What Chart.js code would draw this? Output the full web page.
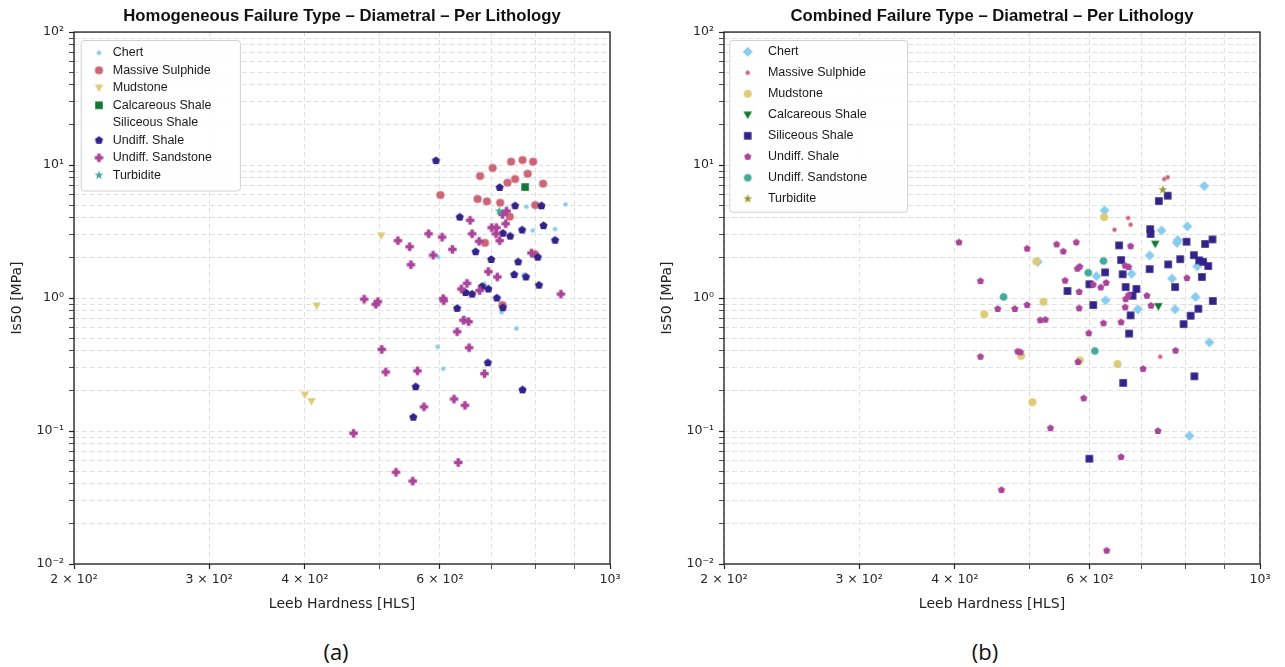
<!DOCTYPE html>
<html>
<head>
<meta charset="utf-8">
<script src="https://cdn.jsdelivr.net/npm/chart.js@4.4.1/dist/chart.umd.min.js"></script>
<style>
html, body { margin: 0; padding: 0; background: #fff; width: 1285px; height: 667px; overflow: hidden; }
.wrap { position: absolute; top: 0; }
#w1 { left: 0; width: 642px; height: 625px; }
#w2 { left: 650px; width: 635px; height: 625px; }
.sub { position: absolute; top: 637px; width: 80px; text-align: center; font-family: "Open Sans", "Liberation Sans", sans-serif; font-size: 22px; color: #111; line-height: 28px; }
</style>
</head>
<body>
<div class="wrap" id="w1"><canvas id="c1" width="642" height="625"></canvas></div>
<div class="wrap" id="w2"><canvas id="c2" width="635" height="625"></canvas></div>
<div class="sub" style="left:296px">(a)</div>
<div class="sub" style="left:945px">(b)</div>
<script>
// ---------- tick values and labels ----------
const X_TICKS = [200, 300, 400, 500, 600, 700, 800, 900, 1000];
const X_LABELS = ['2 × 10²', '3 × 10²', '4 × 10²', '', '6 × 10²', '', '', '', '10³'];
const Y_TICKS = [0.01, 0.02, 0.03, 0.04, 0.05, 0.06, 0.07, 0.08, 0.09,
                 0.1, 0.2, 0.3, 0.4, 0.5, 0.6, 0.7, 0.8, 0.9,
                 1, 2, 3, 4, 5, 6, 7, 8, 9,
                 10, 20, 30, 40, 50, 60, 70, 80, 90, 100];
const Y_LABELS = ['10⁻²', '', '', '', '', '', '', '', '',
                  '10⁻¹', '', '', '', '', '', '', '', '',
                  '10⁰', '', '', '', '', '', '', '', '',
                  '10¹', '', '', '', '', '', '', '', '', '10²'];
const SERIES_NAMES = ['Chert', 'Massive Sulphide', 'Mudstone', 'Calcareous Shale', 'Siliceous Shale', 'Undiff. Shale', 'Undiff. Sandstone', 'Turbidite'];

// ---------- (a) Homogeneous failure type: [Leeb hardness HLS, Is50 MPa] ----------
const homChert = [[778,4.86],[875,5.06],[793,3.22],[848,3.30],[597,2.04],[772,1.50],[686,1.28],[646,0.71],[722,0.78],[755,0.59],[596,0.43],[606,0.294]];
const homMassiveSulphide = [[743,10.6],[769,10.9],[794,10.6],[703,9.5],[781,8.6],[677,8.27],[752,7.85],[735,7.36],[818,7.24],[601,5.95],[672,5.55],[691,5.33],[719,5.21],[799,5.0],[740,4.09],[687,2.60],[798,2.14],[724,0.886]];
const homMudstone = [[503,2.94],[414.5,0.875],[400,0.187],[408,0.167]];
const homCalcareousShale = [[775,6.83]];
const homSiliceousShale = [];
const homUndiffShale = [[593,10.8],[718,6.78],[752,4.94],[814,4.94],[637,4.06],[819,3.5],[768,3.25],[725,3.07],[741,2.92],[848,2.72],[668,2.23],[700,1.95],[759,1.87],[805,2.03],[750,1.50],[777,1.44],[808,1.25],[694,1.17],[681,1.22],[648,1.10],[661,1.07],[712,1.0],[725,0.845],[632,0.836],[693,0.326],[558,0.215],[769,0.204],[554,0.127]];
const homUndiffSandstone = [[733,4.51],[724,4.26],[657,3.84],[731,3.62],[701,3.38],[711,3.38],[580,3.04],[604,2.87],[661,3.04],[710,3.04],[718,2.70],[675,2.67],[623,2.32],[588,2.10],[790,2.18],[694,1.58],[713,1.44],[651,1.29],[640,1.17],[676,1.14],[863,1.07],[606,0.99],[607,0.954],[529,2.70],[548,2.43],[550,1.78],[478,0.98],[498,0.938],[495,0.897],[644,0.68],[654,0.664],[632,0.558],[504,0.411],[655,0.423],[510,0.278],[561,0.283],[686,0.270],[572,0.152],[626,0.174],[647,0.156],[463,0.096],[634,0.058],[526,0.049],[553,0.042]];
const homTurbidite = [[717,4.51]];

// ---------- (b) Combined failure type ----------
const comChert = [[627,4.56],[846,6.95],[744,3.22],[804,3.46],[781,2.73],[779,2.60],[718,2.09],[513,1.87],[612,1.46],[680,1.52],[768,1.40],[828,1.73],[629,0.961],[693,0.822],[775,0.822],[824,1.02],[859,0.464],[809,0.092]];
const comMassiveSulphide = [[750,7.85],[758,8.1],[673,4.0],[678,3.56],[646,3.26],[741,0.362]];
const comMudstone = [[626,4.06],[511,1.89],[522,0.938],[437,0.754],[488,0.368],[582,0.340],[652,0.319],[505,0.165]];
const comCalcareousShale = [[730,2.55],[737,0.866]];
const comSiliceousShale = [[758,5.88],[738,5.36],[719,3.30],[720,3.03],[802,2.65],[867,2.76],[848,2.55],[655,2.49],[659,1.93],[820,2.10],[787,1.96],[833,1.92],[843,1.87],[759,1.79],[856,1.74],[718,1.65],[628,1.56],[662,1.51],[840,1.44],[599,1.27],[561,1.13],[668,1.21],[690,1.17],[775,1.21],[682,1.04],[868,0.95],[606,0.886],[831,0.83],[678,0.741],[812,0.735],[795,0.637],[675,0.54],[821,0.258],[663,0.23],[599,0.0619]];
const comUndiffShale = [[405,2.62],[497,2.35],[543,2.53],[554,2.24],[576,2.62],[678,2.45],[432,1.34],[578,1.66],[582,1.72],[557,1.35],[667,1.75],[674,1.71],[630,1.30],[606,1.26],[620,1.20],[581,1.11],[803,1.41],[674,1.05],[668,0.98],[712,1.04],[497,0.886],[455,0.827],[479,0.827],[581,0.836],[667,0.851],[721,0.875],[517,0.68],[525,0.687],[625,0.646],[659,0.657],[598,0.543],[432,0.362],[483,0.396],[487,0.391],[579,0.33],[704,0.293],[776,0.402],[589,0.176],[533,0.105],[736,0.10],[659,0.0637],[460,0.036],[631,0.0126]];
const comUndiffSandstone = [[625,1.90],[597,1.55],[463,1.02],[609,0.40]];
const comTurbidite = [[747,6.52]];

// ---------- marker images ----------
function makeMarker(shape, size, color) {
  const pad = 2;
  const s = Math.ceil(size) + pad * 2;
  const c = document.createElement('canvas');
  c.width = s; c.height = s;
  if (shape === 'none') return c;
  const g = c.getContext('2d');
  const cx = s / 2, cy = s / 2, r = size / 2;
  g.fillStyle = color;
  g.beginPath();
  const poly = (pts) => { pts.forEach((p, i) => i ? g.lineTo(cx + p[0], cy + p[1]) : g.moveTo(cx + p[0], cy + p[1])); };
  if (shape === 'circle') {
    g.arc(cx, cy, r, 0, Math.PI * 2);
  } else if (shape === 'square') {
    g.rect(cx - r, cy - r, 2 * r, 2 * r);
  } else if (shape === 'diamond') {
    poly([[0, -r], [r, 0], [0, r], [-r, 0]]);
  } else if (shape === 'triDown') {
    poly([[-r, -r * 0.75], [r, -r * 0.75], [0, r]]);
  } else if (shape === 'pentagon' || shape === 'octagon') {
    const n = shape === 'pentagon' ? 5 : 8;
    const off = shape === 'pentagon' ? -Math.PI / 2 : Math.PI / 8;
    const pts = [];
    for (let i = 0; i < n; i++) { const a = off + i * 2 * Math.PI / n; pts.push([r * Math.cos(a), r * Math.sin(a)]); }
    poly(pts);
  } else if (shape === 'plus') {
    const t = r * 0.42;
    poly([[-t, -r], [t, -r], [t, -t], [r, -t], [r, t], [t, t], [t, r], [-t, r], [-t, t], [-r, t], [-r, -t], [-t, -t]]);
  } else if (shape === 'star') {
    const pts = [];
    for (let i = 0; i < 10; i++) {
      const a = -Math.PI / 2 + i * Math.PI / 5;
      const rr = i % 2 ? r * 0.42 : r;
      pts.push([rr * Math.cos(a), rr * Math.sin(a)]);
    }
    poly(pts);
  }
  g.closePath();
  g.fill();
  return c;
}

const C_CHERT = '#88CCEE', C_MS = '#CC6677', C_MUD = '#DDCC77', C_CALC = '#117733',
      C_SIL = '#332288', C_USH = '#AA4499', C_USA = '#44AA99', C_TUR = '#999933';

const homStyles = [
  makeMarker('circle', 4.6, C_CHERT),
  makeMarker('circle', 8.2, C_MS),
  makeMarker('triDown', 8.5, C_MUD),
  makeMarker('square', 7.6, C_CALC),
  makeMarker('none', 1, C_SIL),
  makeMarker('pentagon', 8.6, C_SIL),
  makeMarker('plus', 8.4, C_USH),
  makeMarker('star', 9.4, C_USA)
];
const comStyles = [
  makeMarker('diamond', 10, C_CHERT),
  makeMarker('circle', 4.4, C_MS),
  makeMarker('circle', 8, C_MUD),
  makeMarker('triDown', 8.6, C_CALC),
  makeMarker('square', 7.6, C_SIL),
  makeMarker('pentagon', 7.6, C_USH),
  makeMarker('octagon', 8.2, C_USA),
  makeMarker('star', 9.4, C_TUR)
];
const homColors = [C_CHERT, C_MS, C_MUD, C_CALC, C_SIL, C_SIL, C_USH, C_USA];
const comColors = [C_CHERT, C_MS, C_MUD, C_CALC, C_SIL, C_USH, C_USA, C_TUR];

const homData = [homChert, homMassiveSulphide, homMudstone, homCalcareousShale, homSiliceousShale, homUndiffShale, homUndiffSandstone, homTurbidite];
const comData = [comChert, comMassiveSulphide, comMudstone, comCalcareousShale, comSiliceousShale, comUndiffShale, comUndiffSandstone, comTurbidite];

function buildDatasets(data, styles, colors) {
  return data.map((arr, i) => ({
    label: SERIES_NAMES[i],
    data: arr.map(p => ({ x: p[0], y: p[1] })),
    pointStyle: styles[i],
    backgroundColor: colors[i],
    borderColor: colors[i],
    pointRadius: 4,
    order: data.length - i
  }));
}

// ---------- plugin: legend placement/box + axes frame ----------
const framePlugin = {
  id: 'frameBox',
  afterLayout(chart, args, opts) {
    const lg = chart.legend, ca = chart.chartArea;
    if (!lg) return;
    lg.left = ca.left + opts.dx;
    lg.top = ca.top + opts.dy;
    lg.right = lg.left + lg.width;
    lg.bottom = lg.top + lg.height;
  },
  beforeDraw(chart, args, opts) {
    const lg = chart.legend;
    if (!lg || lg._wrapped) return;
    lg._wrapped = true;
    const orig = lg.draw.bind(lg);
    lg.draw = function (area) {
      const hb = lg.legendHitBoxes || [];
      if (hb.length) {
        const ctx = chart.ctx;
        let l = Infinity, r = -Infinity;
        hb.forEach(h => { l = Math.min(l, h.left); r = Math.max(r, h.left + h.width); });
        const t = hb[0].top - opts.pt;
        const last = hb[hb.length - 1];
        const b = last.top + last.height + opts.pb;
        const x0 = l - opts.pl, x1 = r + opts.pr;
        ctx.save();
        ctx.beginPath();
        if (ctx.roundRect) ctx.roundRect(x0 + 0.5, t + 0.5, x1 - x0, b - t, 3); else ctx.rect(x0 + 0.5, t + 0.5, x1 - x0, b - t);
        ctx.fillStyle = 'rgba(255,255,255,0.9)';
        ctx.fill();
        ctx.lineWidth = 1;
        ctx.strokeStyle = '#d0d0d0';
        ctx.stroke();
        ctx.restore();
      }
      orig(area);
    };
  },
  beforeDatasetsDraw(chart) {
    const ca = chart.chartArea, ctx = chart.ctx;
    ctx.save();
    ctx.lineWidth = 1.3;
    ctx.strokeStyle = '#1a1a1a';
    ctx.strokeRect(ca.left, ca.top, ca.right - ca.left, ca.bottom - ca.top);
    ctx.restore();
  }
};

function scalesConfig() {
  const gridCommon = {
    color: '#e1e1e1', lineWidth: 1, tickLength: 5, tickColor: '#222',
    tickWidth: (c) => (c.tick && c.tick.major) ? 1.2 : 0.8,
    tickBorderDash: []
  };
  const tickFont = { family: 'DejaVu Sans', size: 12.5 };
  const titleFont = { family: 'DejaVu Sans', size: 14 };
  return {
    x: {
      type: 'logarithmic', position: 'bottom', min: 200, max: 1000, bounds: 'data',
      afterBuildTicks: (s) => { s.ticks = X_TICKS.map(v => ({ value: v, major: X_LABELS[X_TICKS.indexOf(v)] !== '' })); },
      afterFit: (s) => { s.height = 61; },
      ticks: { autoSkip: false, maxRotation: 0, minRotation: 0, padding: 3, color: '#262626', font: tickFont,
               callback: (v, i) => X_LABELS[i] },
      grid: gridCommon,
      border: { display: false, dash: [5, 3] },
      title: { display: true, text: 'Leeb Hardness [HLS]', color: '#222', font: titleFont, padding: { top: 4, bottom: 12.6 } }
    },
    y: {
      type: 'logarithmic', position: 'left', min: 0.01, max: 100, bounds: 'data',
      afterBuildTicks: (s) => { s.ticks = Y_TICKS.map((v, i) => ({ value: v, major: Y_LABELS[i] !== '' })); },
      afterFit: (s) => { s.width = 74; },
      ticks: { autoSkip: false, padding: 5, color: '#262626', font: tickFont,
               callback: (v, i) => Y_LABELS[i] },
      grid: gridCommon,
      border: { display: false, dash: [5, 3] },
      title: { display: true, text: 'Is50 [MPa]', color: '#222', font: titleFont, padding: { top: 8.6, bottom: 4 } }
    }
  };
}

function makeChart(id, title, datasets, rightPad, legendCfg) {
  return new Chart(document.getElementById(id), {
    type: 'scatter',
    data: { datasets },
    plugins: [framePlugin],
    options: {
      responsive: false,
      animation: false,
      events: [],
      layout: { padding: { left: 0, right: rightPad, top: 0, bottom: 0 } },
      scales: scalesConfig(),
      plugins: {
        title: { display: true, text: title, fullSize: false, color: '#111',
                 font: { family: 'Liberation Sans', size: 16.7, weight: 'bold' }, padding: { top: 6.5, bottom: 5.5 } },
        legend: {
          display: true, position: 'chartArea', align: 'start',
          labels: {
            usePointStyle: true, pointStyleWidth: legendCfg.symW, padding: legendCfg.padding,
            color: '#1a1a1a', font: { family: 'Liberation Sans', size: 12.5 },
            sort: (a, b) => a.datasetIndex - b.datasetIndex
          }
        },
        tooltip: { enabled: false },
        frameBox: legendCfg.box
      }
    }
  });
}

makeChart('c1', 'Homogeneous Failure Type – Diametral – Per Lithology',
  buildDatasets(homData, homStyles, homColors), 32,
  { symW: 15, padding: 5, box: { dx: 12.5, dy: 9.5, pl: 10.8, pr: 28, pt: 6.5, pb: 9 } });

makeChart('c2', 'Combined Failure Type – Diametral – Per Lithology',
  buildDatasets(comData, comStyles, comColors), 25,
  { symW: 28, padding: 8.5, box: { dx: 1.2, dy: 5, pl: 4.4, pr: 40, pt: 5.5, pb: 6.7 } });
</script>
</body>
</html>
